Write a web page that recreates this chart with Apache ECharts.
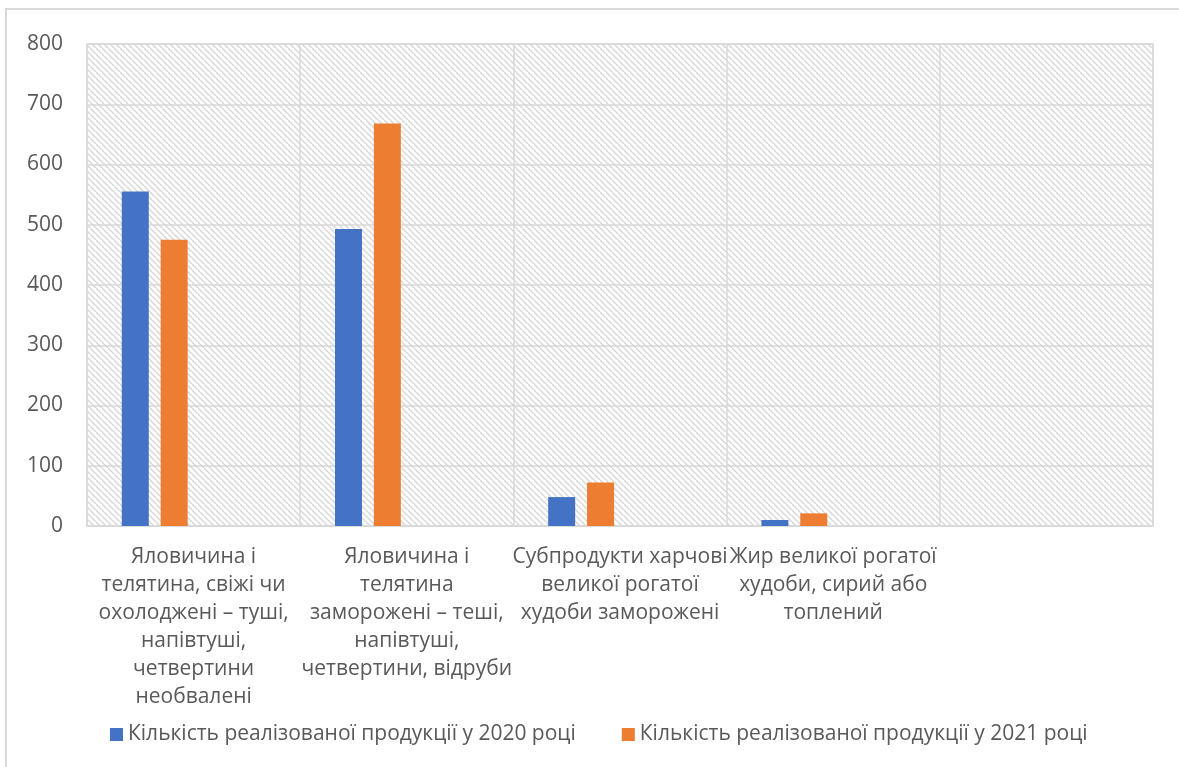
<!DOCTYPE html>
<html>
<head>
<meta charset="utf-8">
<script src="https://cdn.jsdelivr.net/npm/echarts@6/dist/echarts.min.js"></script>
<style>
  html, body { margin: 0; padding: 0; background: #fff; }
  #chart { width: 1179px; height: 767px; }
</style>
</head>
<body>
<div id="chart"></div>
<script>
// Product groups (line breaks follow the wrapped axis labels)
const categories = [
  'Яловичина і\nтелятина, свіжі чи\nохолоджені – туші,\nнапівтуші,\nчетвертини\nнеобвалені',
  'Яловичина і\nтелятина\nзаморожені – теші,\nнапівтуші,\nчетвертини, відруби',
  'Субпродукти харчові\nвеликої рогатої\nхудоби заморожені',
  'Жир великої рогатої\nхудоби, сирий або\nтоплений',
  ''
];
const seriesNames = [
  'Кількість реалізованої продукції у 2020 році',
  'Кількість реалізованої продукції у 2021 році'
];
const sales2020 = [555, 493, 48, 10, null];
const sales2021 = [475, 668, 72, 21, null];
const yTicks = { min: 0, max: 800, interval: 100 };

const FONT = "'Open Sans', 'Noto Sans', sans-serif";
const TEXT = '#595959';
const LINE = '#d9d9d9';

// Diagonal hatch tile for the plot background
function hatchTile() {
  const s = 6;
  const c = document.createElement('canvas');
  c.width = s; c.height = s;
  const g = c.getContext('2d');
  g.fillStyle = '#ffffff';
  g.fillRect(0, 0, s, s);
  g.strokeStyle = '#d6d6d6';
  g.lineWidth = 1.4;
  g.beginPath();
  g.moveTo(-1, -1); g.lineTo(s + 1, s + 1);
  g.moveTo(-s - 1, -1); g.lineTo(1, s + 1);
  g.moveTo(s - 1, -s - 1); g.lineTo(2 * s + 1, s + 1);
  g.stroke();
  return c;
}

const chart = echarts.init(document.getElementById('chart'), null, { renderer: 'canvas' });

const option = {
  backgroundColor: '#ffffff',
  animation: false,
  graphic: [{
    type: 'rect',
    shape: { x: 6, y: 9, width: 1200, height: 800 },
    style: { fill: 'none', stroke: LINE, lineWidth: 2 },
    silent: true,
    z: -1
  }],
  grid: {
    left: 87, right: 26, top: 44, bottom: 241,
    show: true,
    backgroundColor: { image: hatchTile(), repeat: 'repeat' },
    borderColor: LINE,
    borderWidth: 1.5
  },
  legend: {
    data: seriesNames,
    left: 105,
    top: 719,
    itemWidth: 13,
    itemHeight: 13,
    itemGap: 46,
    icon: 'rect',
    textStyle: { color: TEXT, fontFamily: FONT, fontSize: 21 }
  },
  xAxis: {
    type: 'category',
    data: categories,
    axisLine: { show: true, lineStyle: { color: LINE, width: 1.5 } },
    axisTick: { show: false },
    splitLine: { show: true, lineStyle: { color: LINE, width: 1.5 } },
    axisLabel: {
      interval: 0,
      margin: 17,
      color: TEXT,
      fontFamily: FONT,
      fontSize: 21,
      lineHeight: 28,
      align: 'center'
    }
  },
  yAxis: {
    type: 'value',
    min: yTicks.min,
    max: yTicks.max,
    interval: yTicks.interval,
    axisLine: { show: false },
    axisTick: { show: false },
    splitLine: { lineStyle: { color: LINE, width: 1.5 } },
    axisLabel: { color: TEXT, fontFamily: FONT, fontSize: 21, margin: 24 }
  },
  series: [
    { name: seriesNames[0], type: 'bar', data: sales2020, barWidth: 27, barGap: '44%',
      itemStyle: { color: '#4472C4' } },
    { name: seriesNames[1], type: 'bar', data: sales2021, barWidth: 27, barGap: '44%',
      itemStyle: { color: '#ED7D31' } },
    // two unused series slots keep the bar positions within each category
    { name: 'slot3', type: 'bar', data: [], barWidth: 27, barGap: '44%' },
    { name: 'slot4', type: 'bar', data: [], barWidth: 27, barGap: '44%' }
  ]
};

chart.setOption(option);
</script>
</body>
</html>
